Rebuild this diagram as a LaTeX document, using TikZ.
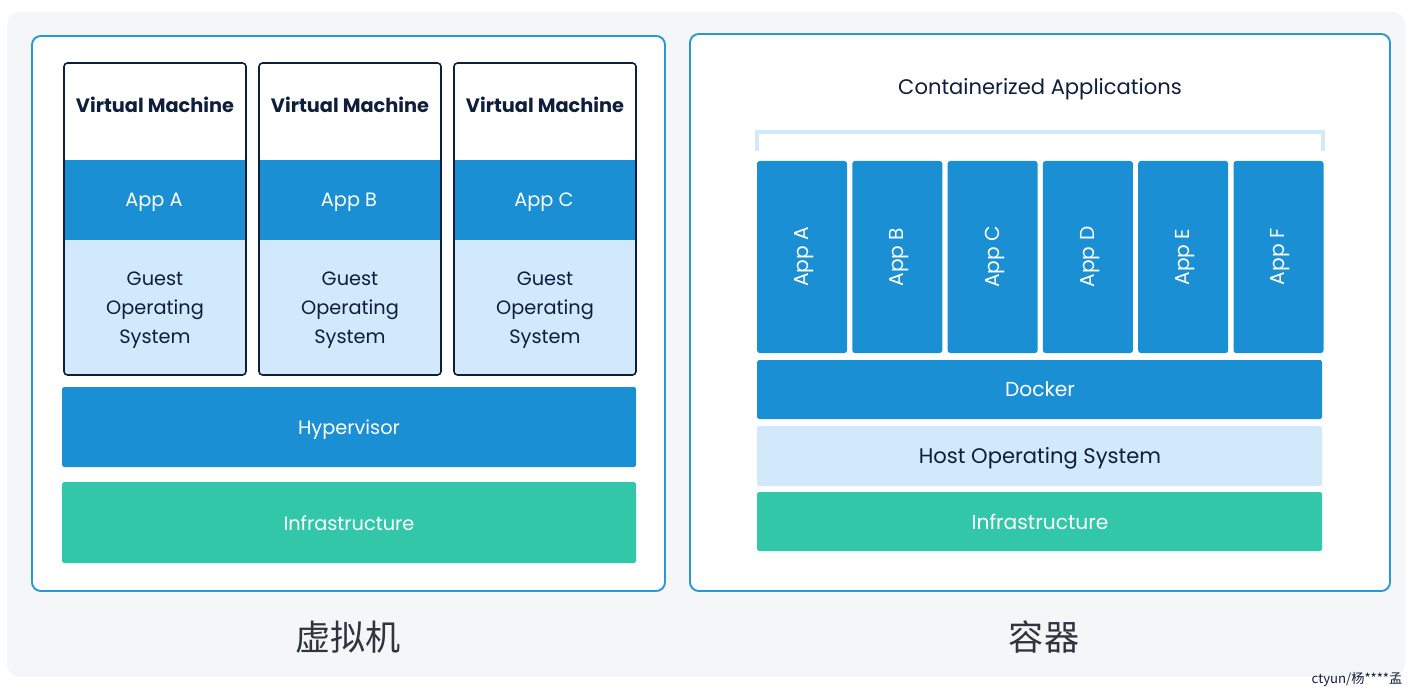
\documentclass[tikz,border=0pt]{standalone}
\usepackage{fontspec}
\setmainfont{Poppins}
\newfontfamily\cjk{Noto Sans CJK SC}
\definecolor{bgGray}{HTML}{F5F6F8}
\definecolor{frameBlue}{HTML}{2B97DA}
\definecolor{appBlue}{HTML}{1B8FD3}
\definecolor{osBlue}{HTML}{D1E9FA}
\definecolor{infraTeal}{HTML}{32C7A9}
\definecolor{navy}{HTML}{0F1E3A}
\definecolor{inkGray}{HTML}{2E3440}

\tikzset{
  layertext/.style={font=\fontsize{11}{14}\selectfont, text=white},
  darktext/.style={font=\fontsize{11}{16.5}\selectfont, text=navy, align=center},
  panel/.style={draw=frameBlue, line width=1.1pt, fill=white, rounded corners=5pt},
}

\begin{document}
\begin{tikzpicture}[x=0.02cm, y=-0.02cm]
  \useasboundingbox (0,0) rectangle (1409,689);
  % Background
  \fill[bgGray, rounded corners=7pt] (7,12) rectangle (1405,677);

  % Left panel: virtual machines
  \draw[panel] (32,36) rectangle (665,591);
  \foreach \x/\l in {64/A, 259/B, 454/C} {
    \begin{scope}
      \clip[rounded corners=2pt] (\x,63) rectangle (\x+182,375);
      \fill[white] (\x,63) rectangle (\x+182,160);
      \fill[appBlue] (\x,160) rectangle (\x+182,240);
      \fill[osBlue] (\x,240) rectangle (\x+182,375);
    \end{scope}
    \draw[navy, line width=0.9pt, rounded corners=2pt] (\x,63) rectangle (\x+182,375);
    \node[font=\fontsize{11}{14}\selectfont\bfseries, text=navy] (vm\l) at (\x+91,105) {Virtual Machine};
    \node[layertext] (app\l) at (\x+90,202) {App \l};
    \node[darktext] (guest\l) at (\x+91,310) {Guest\\Operating\\System};
  }
  \fill[appBlue, rounded corners=1pt] (62,387) rectangle (636,467);
  \node[layertext] (hyper) at (349,430) {Hypervisor};
  \fill[infraTeal, rounded corners=1pt] (62,482) rectangle (636,563);
  \node[layertext] (infraL) at (349,523) {Infrastructure};
  \node[font=\cjk\fontsize{20}{24}\selectfont, text=inkGray] (vmLabel) at (348,637) {虚拟机};

  % Right panel: containers
  \draw[panel] (690,34) rectangle (1390,591);
  \node[font=\fontsize{12}{14}\selectfont, text=navy] (contTitle) at (1040,89) {Containerized Applications};
  \draw[osBlue, line width=2.2pt] (757,151) -- (757,132) -- (1323,132) -- (1323,151);
  \foreach \i/\l in {0/A, 1/B, 2/C, 3/D, 4/E, 5/F} {
    \fill[appBlue, rounded corners=1.5pt] (757+\i*95.3,161) rectangle (847+\i*95.3,353);
    \node[layertext, font=\fontsize{11.5}{14}\selectfont, rotate=90] (capp\l) at (804+\i*95.3,257) {App \l};
  }
  \fill[appBlue, rounded corners=1pt] (757,360) rectangle (1322,419);
  \node[layertext, font=\fontsize{11.5}{14}\selectfont] (docker) at (1040,389) {Docker};
  \fill[osBlue, rounded corners=1pt] (757,426) rectangle (1322,486);
  \node[darktext, font=\fontsize{12}{14}\selectfont] (hostOS) at (1040,458) {Host Operating System};
  \fill[infraTeal, rounded corners=1pt] (757,492) rectangle (1322,551);
  \node[layertext, font=\fontsize{11.5}{14}\selectfont] (infraR) at (1040,522) {Infrastructure};
  \node[font=\cjk\fontsize{20}{24}\selectfont, text=inkGray] (ctLabel) at (1044,637) {容器};

  % Watermark
  \node[font=\cjk\fontsize{7.5}{9}\selectfont, text=navy] (mark) at (1357,680) {ctyun/杨****孟};
\end{tikzpicture}
\end{document}
